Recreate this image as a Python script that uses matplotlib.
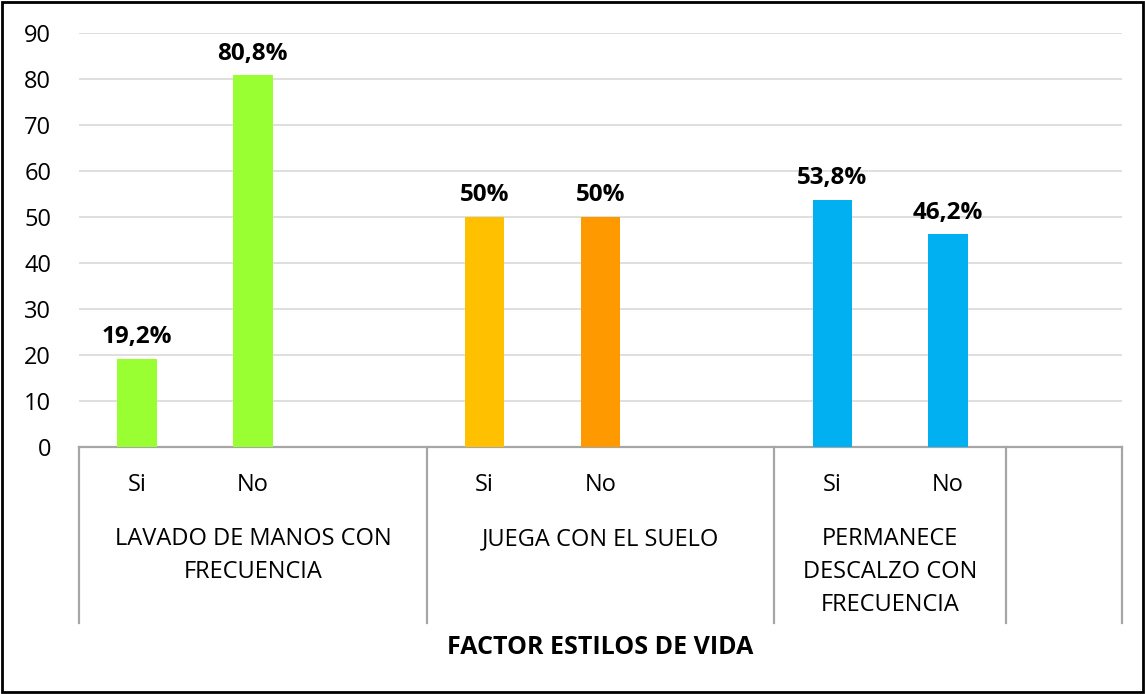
import matplotlib
matplotlib.use("Agg")
import matplotlib.pyplot as plt
import matplotlib.patches as mpatches
import matplotlib.transforms as mtransforms

# data
groups = ["LAVADO DE MANOS CON\nFRECUENCIA", "JUEGA CON EL SUELO", "PERMANECE\nDESCALZO CON\nFRECUENCIA"]
answers = ["Si", "No"]
values = [19.2, 80.8, 50.0, 50.0, 53.8, 46.2]
value_labels = ["19,2%", "80,8%", "50%", "50%", "53,8%", "46,2%"]
bar_colors = ["#99FF33", "#99FF33", "#FFC000", "#FF9900", "#00B0F0", "#00B0F0"]
axis_title = "FACTOR ESTILOS DE VIDA"

plt.rcParams["font.family"] = ["Open Sans", "DejaVu Sans"]
FS = 17

W, H = 1145, 694
fig = plt.figure(figsize=(W / 100, H / 100), dpi=100)
ax = fig.add_axes([79 / W, 1 - 447 / H, (1122 - 79) / W, (447 - 33) / H])

# slots: Si, No, blank per group (last group has no blank inside its cell)
positions = [0, 1, 3, 4, 6, 7]
ax.bar(positions, values, width=0.34, color=bar_colors, zorder=3)
for x, v, lab in zip(positions, values, value_labels):
    ax.annotate(lab, (x, v), xytext=(0, 7), textcoords="offset points",
                ha="center", va="bottom", fontsize=17.5, fontweight="bold")

ax.set_xlim(-0.5, 8.5)
ax.set_ylim(0, 90)
ax.set_yticks(range(0, 91, 10))
ax.tick_params(axis="y", length=0, labelsize=FS, pad=20)
ax.set_xticks([])
ax.yaxis.grid(True, color="#D9D9D9", linewidth=1.2, zorder=0)
for s in ["top", "right", "left"]:
    ax.spines[s].set_visible(False)
ax.spines["bottom"].set_color("#A6A6A6")
ax.spines["bottom"].set_linewidth(1.6)

# multi-level category axis
trans = mtransforms.blended_transform_factory(ax.transData, ax.transAxes)
for xb in [-0.5, 2.5, 5.5, 7.5, 8.5]:
    ax.plot([xb, xb], [0, -0.425], transform=trans, color="#A6A6A6",
            linewidth=1.6, clip_on=False)
for i, x in enumerate(positions):
    ax.text(x, -0.092, answers[i % 2], transform=trans,
            ha="center", va="center", fontsize=FS)
group_centers = [1, 4, 6.5]
for xc, g in zip(group_centers, groups):
    ax.text(xc, -0.193, g, transform=trans, ha="center", va="top",
            fontsize=FS, linespacing=1.5)

fig.text(600 / W, 1 - 647 / H, axis_title, ha="center", va="center",
         fontsize=18, fontweight="bold")

# outer border
fig.patches.append(mpatches.Rectangle((2 / W, 2 / H), 1 - 4 / W, 1 - 4 / H,
                                      transform=fig.transFigure, fill=False,
                                      edgecolor="black", linewidth=2))

fig.savefig("out.png", dpi=100)
